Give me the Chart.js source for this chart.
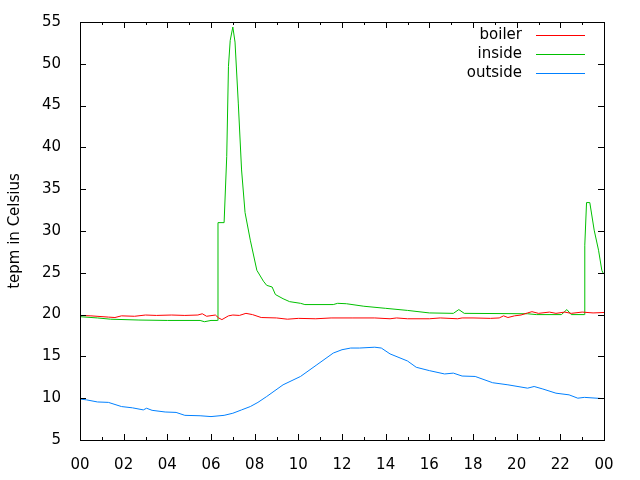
<!DOCTYPE html>
<html>
<head>
<meta charset="utf-8">
<script src="https://cdn.jsdelivr.net/npm/chart.js@4"></script>
<style>
  body { margin: 0; background: #fff; }
  canvas { display: block; }
</style>
</head>
<body>
<canvas id="temps" width="640" height="480"></canvas>
<script>
// hours of the day (0..24) and temperatures
var boilerHours = [0, 0.5, 1.3, 1.6, 1.9, 2.5, 3.0, 3.5, 4.2, 4.8, 5.4, 5.6, 5.8, 6.2, 6.35, 6.5, 6.8, 7.0, 7.3, 7.6, 7.9, 8.3, 9.0, 9.5, 10.0, 10.8, 11.5, 12.5, 13.5, 14.2, 14.5, 15.0, 16.0, 16.5, 17.3, 17.5, 18.0, 18.8, 19.2, 19.4, 19.6, 19.9, 20.2, 20.5, 20.7, 21.0, 21.5, 21.8, 22.2, 22.5, 23.0, 23.5, 24];
var boilerTemps = [19.9, 19.85, 19.7, 19.65, 19.85, 19.8, 19.95, 19.9, 19.95, 19.9, 19.95, 20.1, 19.8, 19.95, 19.6, 19.4, 19.85, 19.95, 19.9, 20.15, 20.0, 19.65, 19.6, 19.45, 19.55, 19.5, 19.6, 19.6, 19.6, 19.5, 19.6, 19.5, 19.5, 19.6, 19.5, 19.6, 19.6, 19.55, 19.6, 19.85, 19.65, 19.85, 19.95, 20.2, 20.35, 20.15, 20.3, 20.15, 20.3, 20.15, 20.3, 20.2, 20.25];

var insideHours = [0, 0.8, 1.4, 2.7, 4.0, 5.5, 5.7, 6.0, 6.3, 6.32, 6.6, 6.72, 6.8, 6.88, 7.0, 7.1, 7.25, 7.4, 7.56, 7.8, 8.1, 8.4, 8.55, 8.8, 8.95, 9.3, 9.6, 10.1, 10.3, 11.6, 11.8, 12.2, 13.0, 14.0, 15.0, 16.0, 17.1, 17.35, 17.6, 20.5, 20.9, 22.05, 22.3, 22.5, 23.1, 23.12, 23.2, 23.35, 23.55, 23.75, 23.9, 23.97];
var insideTemps = [19.75, 19.6, 19.45, 19.35, 19.3, 19.3, 19.15, 19.3, 19.3, 31.0, 31.0, 38.9, 49.7, 52.8, 54.4, 52.6, 45.3, 37.3, 32.2, 28.9, 25.3, 24.0, 23.5, 23.3, 22.4, 21.9, 21.55, 21.35, 21.2, 21.2, 21.35, 21.3, 21.0, 20.75, 20.5, 20.2, 20.15, 20.6, 20.15, 20.1, 20.0, 20.0, 20.6, 20.0, 20.0, 28.3, 33.4, 33.4, 30.1, 27.7, 25.3, 24.9];

var outsideHours = [0, 0.3, 0.8, 1.3, 1.9, 2.4, 2.9, 3.05, 3.3, 3.9, 4.4, 4.8, 5.5, 6.0, 6.6, 7.0, 7.4, 7.8, 8.15, 8.55, 9.3, 10.1, 10.85, 11.6, 12.0, 12.4, 12.8, 13.5, 13.8, 14.2, 15.0, 15.4, 16.0, 16.7, 17.1, 17.5, 18.1, 18.9, 19.6, 20.5, 20.8, 21.2, 21.8, 22.4, 22.8, 23.1, 23.95];
var outsideTemps = [9.9, 9.8, 9.55, 9.5, 9.0, 8.85, 8.6, 8.8, 8.55, 8.35, 8.3, 7.95, 7.9, 7.8, 7.95, 8.2, 8.6, 9.0, 9.5, 10.2, 11.6, 12.6, 14.0, 15.4, 15.8, 16.0, 16.0, 16.1, 16.0, 15.3, 14.45, 13.7, 13.3, 12.9, 13.0, 12.65, 12.6, 11.85, 11.6, 11.2, 11.4, 11.1, 10.6, 10.4, 10.0, 10.1, 9.95];

var seriesNames = ["boiler", "inside", "outside"];
var seriesColors = ["#ff0000", "#00c000", "#0080ff"];
var yTitle = "tepm in Celsius";

var FONT = "'DejaVu Sans', sans-serif";

this.toPoints = function(hours, temps){
    var pts = [];
    for (var i = 0; i < hours.length; i++) {
        pts.push({x: hours[i], y: temps[i]});
    }
    return pts;
}

// gnuplot style frame: box + inward ticks on all four sides + key
var framePlugin = {
    id: 'frame',
    afterDraw: function(chart){
        var ctx = chart.ctx;
        var a = chart.chartArea;
        var xs = chart.scales.x, ys = chart.scales.y;
        ctx.save();
        ctx.strokeStyle = '#000';
        ctx.lineWidth = 1;
        ctx.beginPath();
        for (var v = 5; v <= 55; v += 5) {
            var py = Math.round(ys.getPixelForValue(v)) + 0.5;
            ctx.moveTo(a.left, py); ctx.lineTo(a.left + 6, py);
            ctx.moveTo(a.right, py); ctx.lineTo(a.right - 6, py);
        }
        for (var h = 0; h <= 24; h++) {
            var px = Math.round(xs.getPixelForValue(h)) + 0.5;
            var len = (h % 2 == 0) ? 6 : 3;
            ctx.moveTo(px, a.bottom); ctx.lineTo(px, a.bottom - len);
            ctx.moveTo(px, a.top); ctx.lineTo(px, a.top + len);
        }
        ctx.stroke();
        ctx.strokeRect(a.left + 0.5, a.top + 0.5, a.right - a.left, a.bottom - a.top);

        // key
        ctx.font = '15px ' + FONT;
        ctx.textAlign = 'right';
        ctx.textBaseline = 'middle';
        for (var i = 0; i < seriesNames.length; i++) {
            var ky = 35 + i * 19;
            ctx.fillStyle = '#000';
            ctx.fillText(seriesNames[i], 522, ky);
            ctx.beginPath();
            ctx.strokeStyle = seriesColors[i];
            ctx.moveTo(536, ky + 0.5);
            ctx.lineTo(585, ky + 0.5);
            ctx.stroke();
        }
        ctx.restore();
    }
};

var chart_ctx = document.getElementById("temps").getContext("2d");
var temps_chart = new Chart(chart_ctx, {
    type: 'line',
    data: {
        datasets: [
            { label: seriesNames[0], data: toPoints(boilerHours, boilerTemps), borderColor: seriesColors[0] },
            { label: seriesNames[1], data: toPoints(insideHours, insideTemps), borderColor: seriesColors[1] },
            { label: seriesNames[2], data: toPoints(outsideHours, outsideTemps), borderColor: seriesColors[2] }
        ]
    },
    options: {
        responsive: false,
        animation: false,
        devicePixelRatio: 1,
        layout: { padding: { top: 22, right: 36, left: 0, bottom: 0 } },
        elements: {
            line: { borderWidth: 1, tension: 0 },
            point: { radius: 0, hoverRadius: 0 }
        },
        plugins: {
            legend: { display: false },
            tooltip: { enabled: false }
        },
        scales: {
            x: {
                type: 'linear',
                min: 0,
                max: 24,
                grid: { display: false },
                border: { display: false },
                afterFit: function(scale){ scale.height = 40; },
                ticks: {
                    stepSize: 2,
                    autoSkip: false,
                    maxRotation: 0,
                    padding: 8,
                    color: '#000',
                    font: { family: FONT, size: 15 },
                    callback: function(value){
                        var h = value % 24;
                        return (h < 10 ? '0' : '') + h;
                    }
                }
            },
            y: {
                min: 5,
                max: 55,
                grid: { display: false },
                border: { display: false },
                afterFit: function(scale){ scale.width = 80; },
                title: {
                    display: true,
                    text: yTitle,
                    color: '#000',
                    padding: { top: 6, bottom: 0 },
                    font: { family: FONT, size: 15 }
                },
                ticks: {
                    stepSize: 5,
                    padding: 11,
                    color: '#000',
                    font: { family: FONT, size: 15 }
                }
            }
        }
    },
    plugins: [framePlugin]
});
</script>
</body>
</html>
